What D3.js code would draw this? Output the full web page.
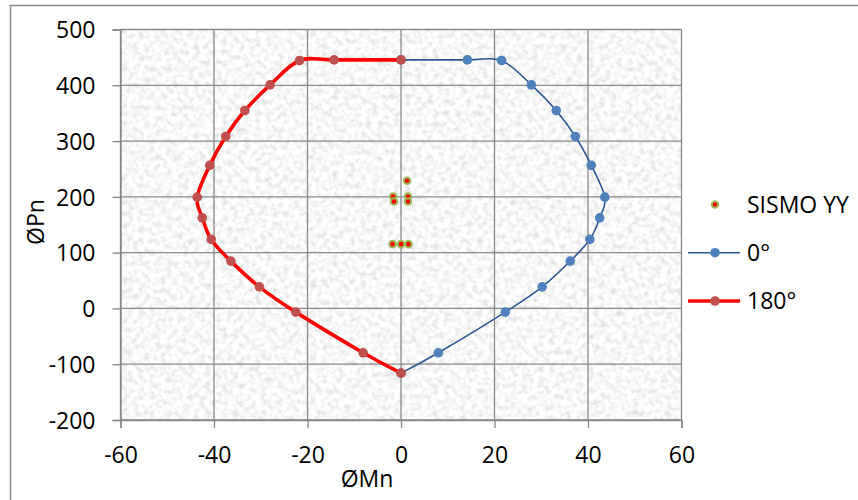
<!DOCTYPE html>
<html>
<head>
<meta charset="utf-8">
<script src="https://cdn.jsdelivr.net/npm/d3@7"></script>
<style>
  html, body { margin: 0; padding: 0; background: #ffffff; }
  svg { display: block; }
  text { font-family: "Open Sans", "Liberation Sans", sans-serif; fill: #000; }
</style>
</head>
<body>
<svg id="chart" width="858" height="500"></svg>
<script>
// Interaction diagram: ØMn (moment) vs ØPn (axial load)
const xTicks = [-60, -40, -20, 0, 20, 40, 60];
const yTicks = [-200, -100, 0, 100, 200, 300, 400, 500];

// Curve for 0°
const mn0 = [0, 14.2, 21.5, 27.9, 33.2, 37.3, 40.7, 43.6, 42.5, 40.4, 36.2, 30.2, 22.3, 8.0, 0];
const pn0 = [445.5, 445.5, 444.4, 400.7, 354.8, 308.2, 256.5, 199.5, 162.4, 123.7, 84.8, 38.7, -6.6, -79.5, -116];

// Curve for 180°
const mn180 = [0, -14.3, -21.7, -28.0, -33.4, -37.5, -40.9, -43.6, -42.5, -40.6, -36.4, -30.3, -22.5, -8.1, 0];
const pn180 = [445.5, 445.5, 444.4, 400.7, 354.8, 308.2, 256.5, 199.5, 162.4, 123.7, 84.8, 38.7, -6.6, -79.5, -116];

// Load combinations, seismic YY
const mnSismo = [1.3, -1.7, -1.5, 1.5, 1.5, -1.8, 0, 1.6];
const pnSismo = [229.0, 200.7, 191.8, 200.7, 191.8, 115.2, 115.2, 115.2];

const legendLabels = ["SISMO YY", "0°", "180°"];

const svg = d3.select("#chart");
const plot = { left: 120.5, right: 681.5, top: 29.5, bottom: 420 };

const x = d3.scaleLinear().domain([-60, 60]).range([plot.left, plot.right]);
const y = d3.scaleLinear().domain([-200, 500]).range([plot.bottom, plot.top]);

// Granite-like plot background
const defs = svg.append("defs");
const filt = defs.append("filter").attr("id", "granite")
  .attr("x", 0).attr("y", 0).attr("width", 1).attr("height", 1);
filt.append("feTurbulence").attr("type", "fractalNoise")
  .attr("baseFrequency", 0.18).attr("numOctaves", 2).attr("seed", 7).attr("result", "n");
filt.append("feColorMatrix").attr("in", "n").attr("type", "matrix")
  .attr("values", "0.55 0 0 0 0.66  0.55 0 0 0 0.66  0.55 0 0 0 0.66  0 0 0 0 1");
defs.append("clipPath").attr("id", "plotClip").append("rect")
  .attr("x", plot.left).attr("y", plot.top)
  .attr("width", plot.right - plot.left).attr("height", plot.bottom - plot.top);

// Chart frame
svg.append("rect").attr("x", 10.5).attr("y", 5.5).attr("width", 870).attr("height", 520)
  .attr("fill", "#fff").attr("stroke", "#8c8c8c").attr("stroke-width", 1.5);

svg.append("rect")
  .attr("x", plot.left).attr("y", plot.top)
  .attr("width", plot.right - plot.left).attr("height", plot.bottom - plot.top)
  .attr("fill", "#ebebeb")
  .attr("filter", "url(#granite)");

// Gridlines
const grid = svg.append("g").attr("stroke", "#8a8a8a").attr("stroke-width", 1.3);
grid.selectAll(".gx").data(xTicks).join("line")
  .attr("x1", d => x(d)).attr("x2", d => x(d))
  .attr("y1", plot.top).attr("y2", plot.bottom);
grid.selectAll(".gy").data(yTicks).join("line")
  .attr("x1", plot.left).attr("x2", plot.right)
  .attr("y1", d => y(d)).attr("y2", d => y(d));

// Axes (plain hyphen for negatives)
const fmt = d => String(d);
const xAxis = svg.append("g").attr("transform", `translate(0,${plot.bottom})`)
  .call(d3.axisBottom(x).tickValues(xTicks).tickSize(8).tickPadding(8).tickFormat(fmt));
const yAxis = svg.append("g").attr("transform", `translate(${plot.left},0)`)
  .call(d3.axisLeft(y).tickValues(yTicks).tickSize(8).tickPadding(17).tickFormat(fmt));
[xAxis, yAxis].forEach(a => {
  a.select(".domain").attr("stroke", "#868686").attr("stroke-width", 1.3);
  a.selectAll(".tick line").attr("stroke", "#868686").attr("stroke-width", 1.3);
  a.selectAll(".tick text").attr("font-size", 23)
    .attr("font-family", '"Open Sans", "Liberation Sans", sans-serif').attr("fill", "#000");
});
xAxis.selectAll(".tick text").attr("dy", null).attr("y", 43);
yAxis.selectAll(".tick text").attr("dy", "0.36em");

// Axis titles
svg.append("text").attr("x", 367).attr("y", 487).attr("text-anchor", "middle")
  .attr("font-size", 23).text("ØMn");
svg.append("text").attr("transform", "translate(44,222) rotate(-90)")
  .attr("text-anchor", "middle").attr("font-size", 23).text("ØPn");

const curve = d3.curveCardinal.tension(0);
const line = d3.line().x(d => x(d[0])).y(d => y(d[1])).curve(curve);

const s0 = d3.zip(mn0, pn0);
const s180 = d3.zip(mn180, pn180);
const sS = d3.zip(mnSismo, pnSismo);

const marks = svg.append("g").attr("clip-path", "url(#plotClip)");

// Seismic combinations
marks.selectAll(".sis").data(sS).join("circle")
  .attr("cx", d => x(d[0])).attr("cy", d => y(d[1])).attr("r", 3.3)
  .attr("fill", "#ff0000").attr("stroke", "#9bbb59").attr("stroke-width", 2);

// 0° curve
marks.append("path").datum(s0).attr("d", line)
  .attr("fill", "none").attr("stroke", "#2b5796").attr("stroke-width", 1.6);
marks.selectAll(".p0").data(s0).join("circle")
  .attr("cx", d => x(d[0])).attr("cy", d => y(d[1])).attr("r", 4.8)
  .attr("fill", "#4f81bd");

// 180° curve
marks.append("path").datum(s180).attr("d", line)
  .attr("fill", "none").attr("stroke", "#ff0000").attr("stroke-width", 3.6);
marks.selectAll(".p180").data(s180).join("circle")
  .attr("cx", d => x(d[0])).attr("cy", d => y(d[1])).attr("r", 4.8)
  .attr("fill", "#c0504d");

// Legend
const lg = svg.append("g");
const rowsY = [204.5, 252.7, 301];
lg.append("circle").attr("cx", 715).attr("cy", rowsY[0]).attr("r", 3.3)
  .attr("fill", "#ff0000").attr("stroke", "#9bbb59").attr("stroke-width", 2);
lg.append("line").attr("x1", 688).attr("x2", 740).attr("y1", rowsY[1]).attr("y2", rowsY[1])
  .attr("stroke", "#2b5796").attr("stroke-width", 1.6);
lg.append("circle").attr("cx", 715).attr("cy", rowsY[1]).attr("r", 4.8).attr("fill", "#4f81bd");
lg.append("line").attr("x1", 688).attr("x2", 740).attr("y1", rowsY[2]).attr("y2", rowsY[2])
  .attr("stroke", "#ff0000").attr("stroke-width", 3.6);
lg.append("circle").attr("cx", 715).attr("cy", rowsY[2]).attr("r", 4.8).attr("fill", "#c0504d");
lg.selectAll(".lt").data(legendLabels).join("text")
  .attr("x", 747).attr("y", (d, i) => rowsY[i] + 8.3)
  .attr("font-size", 23).text(d => d);
</script>
</body>
</html>
